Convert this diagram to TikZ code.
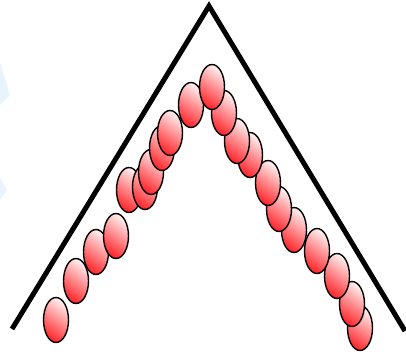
\documentclass[tikz,border=0pt]{standalone}
\usetikzlibrary{shapes.geometric}
\definecolor{ballred}{RGB}{255,40,45}
\definecolor{balllight}{RGB}{255,238,238}
\definecolor{faintblue}{RGB}{232,244,252}
\tikzset{
  ball/.style={ellipse, draw=black, line width=1.4pt, minimum width=25pt, minimum height=45pt, inner sep=0pt,
    top color=balllight, bottom color=ballred, shading angle=-35},
  wall/.style={line width=5pt, line join=miter, miter limit=10}
}
\begin{document}
\begin{tikzpicture}[x=1pt,y=-1pt]
\useasboundingbox (0,0) rectangle (406,353);
\fill[faintblue] (0,62) -- (10,95) -- (0,105) -- cycle;
\fill[faintblue] (0,178) -- (7,190) -- (0,200) -- cycle;
\coordinate (lend) at (12,329);
\coordinate (apex) at (209,6);
\coordinate (rend) at (405,331);
\draw[wall] (lend) -- (apex) -- (rend);
% right chain, bottom to top
\node[ball] (r10) at (360,328) {};
\node[ball] (r9) at (352,304) {};
\node[ball] (r8) at (337,276) {};
\node[ball] (r7) at (317,251) {};
\node[ball] (r6) at (294,230) {};
\node[ball] (r5) at (279,209) {};
\node[ball] (r4) at (268,183) {};
\node[ball] (r3) at (250,155) {};
\node[ball] (r2) at (237,141) {};
\node[ball] (r1) at (224,113) {};
% left chain, bottom to top
\node[ball] (l1) at (56,320) {};
\node[ball] (l2) at (76,281) {};
\node[ball] (l3) at (96,252) {};
\node[ball] (l4) at (116,236) {};
\node[ball] (l5) at (129,190) {};
\node[ball] (l6) at (145,187) {};
\node[ball] (l7) at (151,172) {};
\node[ball] (l8) at (162,148) {};
\node[ball] (l9) at (170,133) {};
\node[ball] (l10) at (191,105) {};
\node[ball] (top) at (212,87) {};
\end{tikzpicture}
\end{document}
